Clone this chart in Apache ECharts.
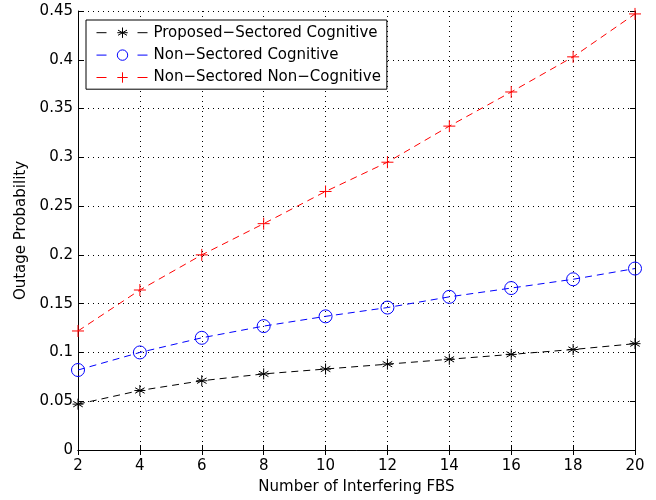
<!DOCTYPE html>
<html>
<head>
    <meta charset="UTF-8">
    <title>Outage Probability</title>
    <script type="text/javascript" src="https://cdn.jsdelivr.net/npm/echarts@6/dist/echarts.min.js"></script>
</head>
<body style="margin:0; background-color:#fff;">
    <div id="chart" style="width:656px;height:500px;"></div>
    <script>
        // data
        var fbsCount = [2, 4, 6, 8, 10, 12, 14, 16, 18, 20];
        var sectoredCognitive = [0.047, 0.061, 0.071, 0.078, 0.083, 0.088, 0.093, 0.098, 0.103, 0.109];
        var nonSectoredCognitive = [0.082, 0.100, 0.115, 0.127, 0.137, 0.146, 0.157, 0.166, 0.175, 0.186];
        var nonSectoredNonCognitive = [0.122, 0.164, 0.200, 0.232, 0.265, 0.295, 0.332, 0.367, 0.403, 0.447];
        var seriesNames = ['Proposed\u2212Sectored Cognitive', 'Non\u2212Sectored Cognitive', 'Non\u2212Sectored Non\u2212Cognitive'];

        var FONT = 'DejaVu Sans, sans-serif';
        var asterisk = 'path://M0,-5L0,5M-4.33,-2.5L4.33,2.5M-4.33,2.5L4.33,-2.5M-5,0L5,0';
        var plus = 'path://M0,-5L0,5M-5,0L5,0';

        function pairs(ys) {
            return fbsCount.map(function (x, i) { return [x, ys[i]]; });
        }

        function lineSeries(name, ys, color, symbol, size) {
            return {
                name: name,
                type: 'line',
                data: pairs(ys),
                symbol: symbol,
                symbolSize: size,
                showAllSymbol: true,
                animation: false,
                lineStyle: { color: color, width: 1, type: [7, 5] },
                itemStyle: { color: 'none', borderColor: color, borderWidth: 1 },
                emphasis: { disabled: true }
            };
        }

        var gridLine = { show: true, lineStyle: { color: '#000', type: [1, 4], width: 1 } };
        var frameLine = { show: true, lineStyle: { color: '#000', width: 1 } };
        var inTicks = { show: true, inside: true, length: 5, lineStyle: { color: '#000' } };

        var chart = echarts.init(document.getElementById('chart'), null, { renderer: 'canvas' });
        var option = {
            animation: false,
            textStyle: { fontFamily: FONT },
            grid: { left: 78, right: 21, top: 11, bottom: 49 },
            legend: {
                orient: 'vertical',
                left: 86,
                top: 20,
                data: seriesNames,
                backgroundColor: '#fff',
                borderColor: '#000',
                borderWidth: 1,
                padding: [5, 6, 4, 10],
                itemGap: 7,
                itemWidth: 52,
                itemHeight: 13,
                lineStyle: { width: 1, type: [10, 31] },
                itemStyle: { borderWidth: 1 },
                textStyle: { fontSize: 15, color: '#000', fontFamily: FONT }
            },
            xAxis: [{
                type: 'value',
                min: 2, max: 20, interval: 2,
                name: 'Number of Interfering FBS',
                nameLocation: 'middle',
                nameGap: 30,
                nameTextStyle: { fontSize: 15, color: '#000' },
                axisLine: frameLine,
                axisTick: inTicks,
                axisLabel: { fontSize: 15, color: '#000', margin: 9 },
                splitLine: gridLine
            }, {
                type: 'value',
                position: 'top',
                min: 2, max: 20, interval: 2,
                axisLine: frameLine,
                axisTick: inTicks,
                axisLabel: { show: false },
                splitLine: { show: false }
            }],
            yAxis: [{
                type: 'value',
                min: 0, max: 0.45, interval: 0.05,
                name: 'Outage Probability',
                nameLocation: 'middle',
                nameGap: 48,
                nameTextStyle: { fontSize: 15, color: '#000' },
                axisLine: frameLine,
                axisTick: inTicks,
                axisLabel: { fontSize: 15, color: '#000', margin: 5,
                    formatter: function (v) { return String(Math.round(v * 100) / 100); } },
                splitLine: gridLine
            }, {
                type: 'value',
                position: 'right',
                min: 0, max: 0.45, interval: 0.05,
                axisLine: frameLine,
                axisTick: inTicks,
                axisLabel: { show: false },
                splitLine: { show: false }
            }],
            series: [
                lineSeries(seriesNames[0], sectoredCognitive, '#000000', asterisk, 11),
                lineSeries(seriesNames[1], nonSectoredCognitive, '#0000ff', 'circle', 13),
                lineSeries(seriesNames[2], nonSectoredNonCognitive, '#ff0000', plus, 12)
            ]
        };
        chart.setOption(option);
    </script>
</body>
</html>
